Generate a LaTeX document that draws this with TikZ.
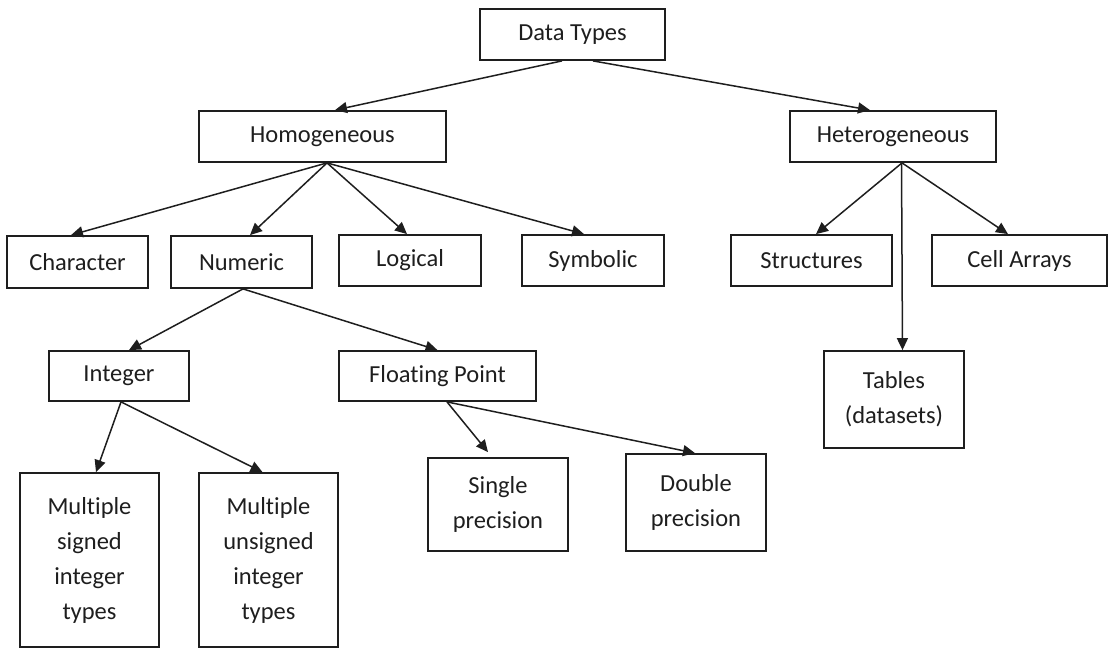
\documentclass[tikz,border=0pt]{standalone}
\usepackage{fontspec}
\setmainfont{Carlito}[Ligatures=NoCommon]
\usetikzlibrary{arrows.meta}
\definecolor{ink}{HTML}{1E1E1E}
\tikzset{
  box/.style={draw=ink, line width=1.8pt, inner sep=0pt, align=center,
    text=ink, font=\fontsize{24.5}{35}\selectfont},
  conn/.style={draw=ink, line width=1.5pt,
    -{Triangle[length=12pt,width=11pt]}},
}
\begin{document}
\begin{tikzpicture}[x=1pt,y=-1pt]
\useasboundingbox (0,0) rectangle (1111,648);
% level 0
\node[box, minimum width=185pt, minimum height=51pt] (dt) at (572.5,34.5) {Data Types};
% level 1
\node[box, minimum width=247pt, minimum height=51pt] (homo) at (322.5,136.5) {Homogeneous};
\node[box, minimum width=206pt, minimum height=51pt] (hetero) at (893,136.5) {Heterogeneous};
% level 2
\node[box, minimum width=141pt, minimum height=52pt] (char) at (77.5,262) {Character};
\node[box, minimum width=141pt, minimum height=52pt] (num) at (241.5,262) {Numeric};
\node[box, minimum width=142pt, minimum height=51pt] (logi) at (410,260.5) {Logical};
\node[box, minimum width=142pt, minimum height=51pt] (symb) at (593,260.5) {Symbolic};
\node[box, minimum width=161pt, minimum height=51pt] (struct) at (811.5,260.5) {Structures};
\node[box, minimum width=175pt, minimum height=51pt] (cell) at (1019.5,260.5) {Cell Arrays};
\node[box, minimum width=140pt, minimum height=97pt] (tabl) at (894,399.5) {Tables\\(datasets)};
% level 3
\node[box, minimum width=140pt, minimum height=50pt] (int) at (119,376) {Integer};
\node[box, minimum width=197pt, minimum height=50pt] (flt) at (437.5,376) {Floating Point};
% level 4
\node[box, minimum width=139pt, minimum height=174pt] (sgn) at (89.5,560) {Multiple\\signed\\integer\\types};
\node[box, minimum width=139pt, minimum height=174pt] (usgn) at (268.5,560) {Multiple\\unsigned\\integer\\types};
\node[box, minimum width=140pt, minimum height=93pt] (sngl) at (498,504.5) {Single\\precision};
\node[box, minimum width=140pt, minimum height=97pt] (dbl) at (696,502.5) {Double\\precision};
% connectors
\draw[conn] ([xshift=-10.5pt]dt.south) -- ([xshift=12.5pt]homo.north);
\draw[conn] ([xshift=20.5pt]dt.south) -- ([xshift=-23pt]hetero.north);
\draw[conn] ([xshift=4.5pt]homo.south) -- ([xshift=-6.5pt]char.north);
\draw[conn] ([xshift=4.5pt]homo.south) -- ([xshift=8.5pt]num.north);
\draw[conn] ([xshift=4.5pt]homo.south) -- ([xshift=-3pt]logi.north);
\draw[conn] ([xshift=4.5pt]homo.south) -- ([xshift=-9pt]symb.north);
\draw[conn] ([xshift=9pt]hetero.south) -- ([xshift=4.5pt]struct.north);
\draw[conn] ([xshift=9pt]hetero.south) -- ([xshift=-11.5pt]cell.north);
\draw[conn] ([xshift=8.5pt]hetero.south) -- ([xshift=8.5pt]tabl.north);
\draw[conn] ([xshift=1.5pt]num.south) -- ([xshift=10pt]int.north);
\draw[conn] ([xshift=1.5pt]num.south) -- (flt.north);
\draw[conn] ([xshift=2pt]int.south) -- ([xshift=6.5pt]sgn.north);
\draw[conn] ([xshift=2pt]int.south) -- ([xshift=-6pt]usgn.north);
\draw[conn] ([xshift=9.5pt]flt.south) -- ([xshift=-10pt,yshift=5pt]sngl.north);
\draw[conn] ([xshift=9.5pt]flt.south) -- ([xshift=-1pt]dbl.north);
\end{tikzpicture}
\end{document}
